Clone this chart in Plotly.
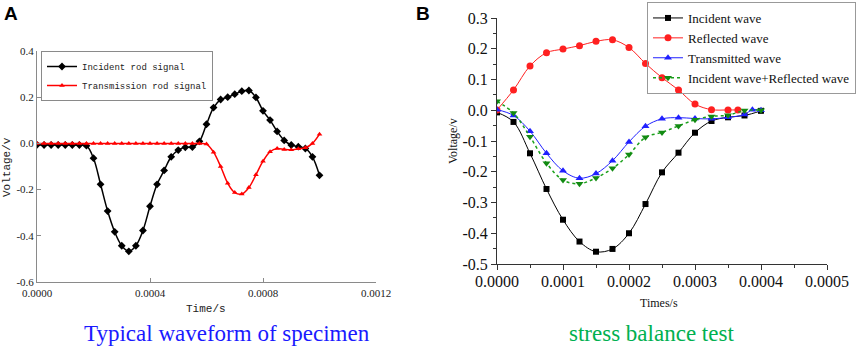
import plotly.graph_objects as go

# ---------------- Panel A data ----------------
t_a = [k * 0.000025 for k in range(41)]
incident_rod = [-0.006, -0.007, -0.007, -0.007, -0.007, -0.007, -0.007, -0.010,
                -0.064, -0.177, -0.293, -0.383, -0.443, -0.467, -0.443, -0.377,
                -0.272, -0.177, -0.117, -0.058, -0.029, -0.017, -0.016, 0.009,
                0.083, 0.155, 0.190, 0.200, 0.213, 0.226, 0.229, 0.199,
                0.141, 0.101, 0.052, 0.013, -0.007, -0.014, -0.022, -0.058, -0.138]
transmission_rod = [0.0] * 24 + [-0.003, -0.038, -0.100, -0.172, -0.213, -0.219,
                                 -0.191, -0.136, -0.077, -0.036, -0.022, -0.026,
                                 -0.028, -0.023, -0.019, 0.000, 0.040]

# ---------------- Panel B data ----------------
t_b = [k * 0.000025 for k in range(17)]
incident_wave = [-0.007, -0.038, -0.140, -0.256, -0.356, -0.427, -0.460, -0.451,
                 -0.400, -0.305, -0.202, -0.138, -0.073, -0.035, -0.023, -0.017, -0.002]
t_refl = [k * 0.000025 for k in range(15)] + [0.000365]
reflected_wave = [0.001, 0.066, 0.144, 0.187, 0.199, 0.210, 0.224, 0.229,
                  0.204, 0.152, 0.106, 0.066, 0.020, 0.002, 0.001, 0.001]
t_trans = [k * 0.000025 for k in range(16)] + [0.000387, 0.0004]
transmitted_wave = [0.002, -0.017, -0.068, -0.140, -0.197, -0.221, -0.206, -0.164,
                    -0.103, -0.052, -0.028, -0.024, -0.027, -0.028, -0.023, -0.014,
                    0.002, 0.000]
inc_plus_refl = [0.029, -0.009, -0.086, -0.172, -0.227, -0.239, -0.220, -0.189,
                 -0.144, -0.088, -0.072, -0.051, -0.031, -0.020, -0.016, -0.001, 0.000]

# tick labels
a_xticks = [0, 0.0004, 0.0008, 0.0012]
a_xtext = ["0.0000", "0.0004", "0.0008", "0.0012"]
a_yticks = [0.4, 0.2, 0.0, -0.2, -0.4, -0.6]
a_ytext = ["0.4", "0.2", "0.0", "-0.2", "-0.4", "-0.6"]
b_xticks = [0, 0.0001, 0.0002, 0.0003, 0.0004, 0.0005]
b_xtext = ["0.0000", "0.0001", "0.0002", "0.0003", "0.0004", "0.0005"]
b_yticks = [0.3, 0.2, 0.1, 0.0, -0.1, -0.2, -0.3, -0.4, -0.5]
b_ytext = ["0.3", "0.2", "0.1", "0.0", "-0.1", "-0.2", "-0.3", "-0.4", "-0.5"]

W, H = 858, 346
def px(x):
    return x / W
def py(y):
    return 1 - y / H

MONO = "Liberation Mono"
SERIF = "Liberation Serif"

fig = go.Figure()

fig.add_trace(go.Scatter(x=t_a, y=incident_rod, name="Incident rod signal",
                         mode="lines+markers", line=dict(color="black", width=1.5, shape="spline"),
                         marker=dict(symbol="diamond", size=6, color="black"),
                         xaxis="x", yaxis="y", legend="legend"))
fig.add_trace(go.Scatter(x=t_a, y=transmission_rod, name="Transmission rod signal",
                         mode="lines+markers", line=dict(color="#ff0000", width=1.5, shape="spline"),
                         marker=dict(symbol="triangle-up", size=5, color="#ff0000"),
                         xaxis="x", yaxis="y", legend="legend"))

fig.add_trace(go.Scatter(x=t_b, y=incident_wave, name="Incident wave",
                         mode="lines+markers", line=dict(color="black", width=1, shape="spline"),
                         marker=dict(symbol="square", size=6, color="black"),
                         xaxis="x2", yaxis="y2", legend="legend2"))
fig.add_trace(go.Scatter(x=t_refl, y=reflected_wave, name="Reflected wave",
                         mode="lines+markers", line=dict(color="#ff2020", width=1, shape="spline"),
                         marker=dict(symbol="circle", size=7, color="#ff2020"),
                         xaxis="x2", yaxis="y2", legend="legend2"))
fig.add_trace(go.Scatter(x=t_trans, y=transmitted_wave, name="Transmitted wave",
                         mode="lines+markers", line=dict(color="#2020ff", width=1, shape="spline"),
                         marker=dict(symbol="triangle-up", size=7, color="#2020ff"),
                         xaxis="x2", yaxis="y2", legend="legend2"))
fig.add_trace(go.Scatter(x=t_b, y=inc_plus_refl, name="Incident wave+Reflected wave",
                         mode="lines+markers", line=dict(color="#1aa01a", width=1.5, dash="dot", shape="spline"),
                         marker=dict(symbol="triangle-down", size=7, color="#128a12"),
                         xaxis="x2", yaxis="y2", legend="legend2"))

axA = dict(showgrid=False, zeroline=False, showline=True, linecolor="#8a8a8a", linewidth=1,
           ticks="inside", ticklen=4, tickcolor="#8a8a8a",
           tickfont=dict(family=SERIF, size=11, color="#222"))
axB = dict(showgrid=False, zeroline=False, showline=True, linecolor="#333", linewidth=1,
           ticks="outside", ticklen=5, tickcolor="#333",
           tickfont=dict(family=SERIF, size=16, color="#111"))

fig.update_layout(
    width=W, height=H, margin=dict(l=0, r=0, t=0, b=0, autoexpand=False),
    paper_bgcolor="white", plot_bgcolor="white",
    xaxis=dict(axA, domain=[px(37), px(376)], range=[0, 0.0012], tickvals=a_xticks,
               ticktext=a_xtext, anchor="y", ticklabelstandoff=1),
    yaxis=dict(axA, domain=[py(282), py(51)], range=[-0.6, 0.4], tickvals=a_yticks,
               ticktext=a_ytext, anchor="x"),
    xaxis2=dict(axB, domain=[px(497), px(827)], range=[0, 0.0005], tickvals=b_xticks,
                ticktext=b_xtext, anchor="y2", ticklabelstandoff=-2,
                minor=dict(ticks="outside", ticklen=3, tickcolor="#333", dtick=0.00005, tick0=0)),
    yaxis2=dict(axB, domain=[py(264), py(18)], range=[-0.5, 0.3], tickvals=b_yticks,
                ticktext=b_ytext, anchor="x2",
                minor=dict(ticks="outside", ticklen=3, tickcolor="#333", dtick=0.05, tick0=0)),
    legend=dict(x=px(41), y=py(51), xanchor="left", yanchor="top",
                bgcolor="white", bordercolor="#8a8a8a", borderwidth=1,
                font=dict(family=MONO, size=9, color="#222"), tracegroupgap=0,
                itemwidth=30),
    legend2=dict(x=px(856), y=py(2), xanchor="right", yanchor="top",
                 bgcolor="rgba(255,255,255,0)", bordercolor="#999", borderwidth=1,
                 font=dict(family=SERIF, size=13, color="#111"), tracegroupgap=0,
                 itemwidth=30),
    showlegend=True,
    annotations=[
        dict(text="<b>A</b>", x=px(2), y=py(1), xref="paper", yref="paper",
             xanchor="left", yanchor="top", showarrow=False,
             font=dict(family="Liberation Sans", size=19, color="black")),
        dict(text="<b>B</b>", x=px(414), y=py(1), xref="paper", yref="paper",
             xanchor="left", yanchor="top", showarrow=False,
             font=dict(family="Liberation Sans", size=19, color="black")),
        dict(text="Time/s", x=px(206), y=py(309), xref="paper", yref="paper",
             xanchor="center", yanchor="middle", showarrow=False,
             font=dict(family=MONO, size=11, color="#222")),
        dict(text="Voltage/v", x=px(7), y=py(167), xref="paper", yref="paper",
             xanchor="center", yanchor="middle", showarrow=False, textangle=-90,
             font=dict(family=MONO, size=11, color="#222")),
        dict(text="Times/s", x=px(659), y=py(303), xref="paper", yref="paper",
             xanchor="center", yanchor="middle", showarrow=False,
             font=dict(family=SERIF, size=12, color="#111")),
        dict(text="Voltage/v", x=px(453), y=py(141), xref="paper", yref="paper",
             xanchor="center", yanchor="middle", showarrow=False, textangle=-90,
             font=dict(family=SERIF, size=12, color="#111")),
        dict(text="Typical waveform of specimen", x=px(227), y=py(333), xref="paper", yref="paper",
             xanchor="center", yanchor="middle", showarrow=False,
             font=dict(family=SERIF, size=23, color="#1a1aff")),
        dict(text="stress balance test", x=px(651), y=py(333), xref="paper", yref="paper",
             xanchor="center", yanchor="middle", showarrow=False,
             font=dict(family=SERIF, size=23, color="#00b050")),
    ],
)

fig.write_html("out.html", config={"displayModeBar": False},
               post_script="document.body.style.margin='0';document.body.style.overflow='hidden';")
